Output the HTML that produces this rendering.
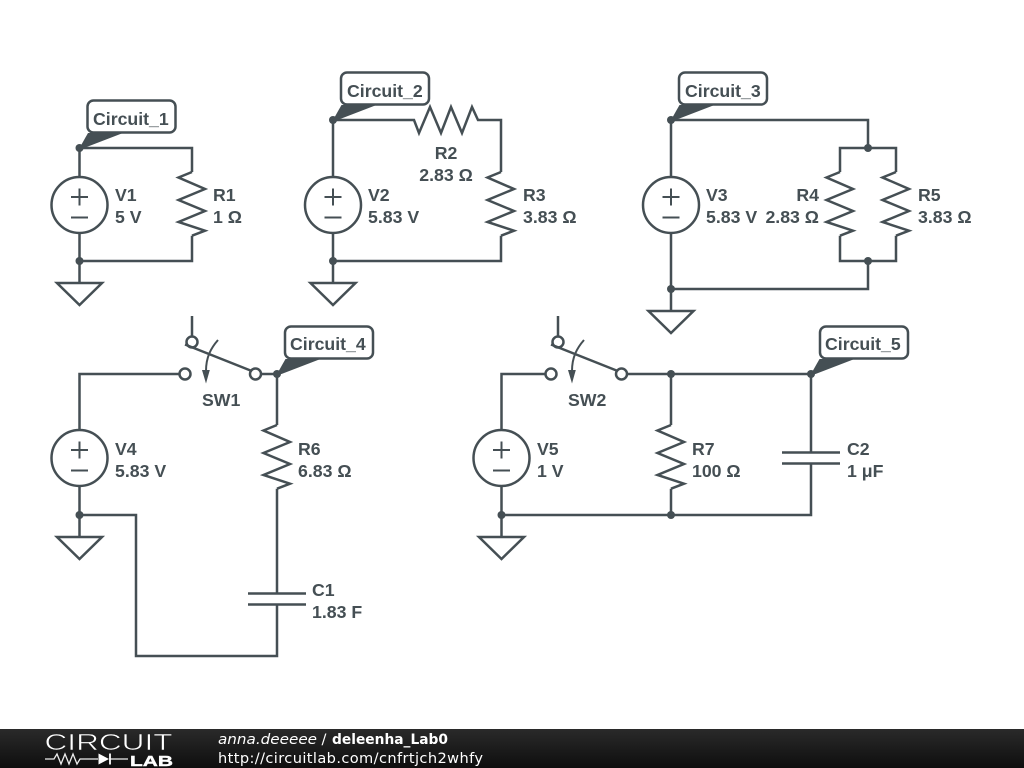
<!DOCTYPE html>
<html><head><meta charset="utf-8"><style>
html,body{margin:0;padding:0;background:#fff;width:1024px;height:768px;overflow:hidden}
svg{display:block}
.w{fill:none;stroke:#454f54;stroke-width:2.5;stroke-linejoin:miter}
.l{font:bold 17.7px "Liberation Sans",sans-serif;fill:#454f54}
.f{font:14.6px "DejaVu Sans",sans-serif;fill:#fff}
</style></head><body>
<svg width="1024" height="768" viewBox="0 0 1024 768" xmlns="http://www.w3.org/2000/svg">
<defs>
<linearGradient id="g" x1="0" y1="0" x2="0" y2="1"><stop offset="0" stop-color="#2a2a2a"/><stop offset="1" stop-color="#0e0e0e"/></linearGradient>
<g id="src"><circle class="w" r="28"/><path class="w" style="stroke-width:2" d="M-8.500-8H8.500M0-16.500V0.500M-8.500 12.500H8.500"/></g>
<g id="gnd"><path class="w" d="M-22.500 0H22.500L0 22Z"/></g>
<g id="res"><polyline class="w" points="0,-33 -13.500,-27.500 13,-16 -13.500,-5 13,6 -13.500,17 13,25.700 0,30.700"/></g>
<g id="sw"><path class="w" d="M7 -58V-38"/><circle class="w" cx="0" cy="0" r="5.500"/><circle class="w" cx="7" cy="-32" r="5.500"/><circle class="w" cx="70.500" cy="0" r="5.500"/>
<path class="w" d="M0-29.500 65.500-3.500"/><path class="w" d="M33-34C26-26 21-17 21-3" style="stroke-width:2"/><path d="M21 9.500 17-4H24.800Z" fill="#454f54"/></g>
<g id="cap"><path class="w" d="M-29-5.500H29M-29 5.500H29"/></g>
<path id="ptr" d="M0 0 8.500-15H43.500L4.500 0Z" fill="#454f54"/>
</defs>
<rect width="1024" height="768" fill="#fff"/>

<!-- Circuit 1 -->
<path class="w" d="M79.500 177V148H192V172M192 235.700V261H79.500V233M79.500 261V283"/>
<use href="#src" x="79.500" y="205"/><use href="#res" x="192" y="205"/><use href="#gnd" x="79.500" y="283"/>
<circle cx="79.500" cy="148" r="4" fill="#454f54"/><circle cx="79.500" cy="261" r="4" fill="#454f54"/>
<rect class="w" x="87.500" y="100.500" width="88" height="32" rx="6" style="fill:#fff"/>
<use href="#ptr" x="79.500" y="148"/>
<text class="l" x="93" y="125">Circuit_1</text>
<text class="l" x="115" y="201">V1</text><text class="l" x="115" y="223">5 V</text>
<text class="l" x="213" y="201">R1</text><text class="l" x="213" y="223">1 Ω</text>

<!-- Circuit 2 -->
<path class="w" d="M333 177V120H414L419 133 430 107 441 133 451 107 462 133 472 107 478 120H501V172M501 235.700V261H333V233M333 261V283"/>
<use href="#src" x="333" y="205"/><use href="#res" x="501" y="205"/><use href="#gnd" x="333" y="283"/>
<circle cx="333" cy="120" r="4" fill="#454f54"/><circle cx="333" cy="261" r="4" fill="#454f54"/>
<rect class="w" x="341" y="72.500" width="88" height="32" rx="6" style="fill:#fff"/>
<use href="#ptr" x="333" y="120"/>
<text class="l" x="347" y="97">Circuit_2</text>
<text class="l" x="368" y="201">V2</text><text class="l" x="368" y="223">5.83 V</text>
<text class="l" x="446" y="159" text-anchor="middle">R2</text><text class="l" x="446" y="181" text-anchor="middle">2.83 Ω</text>
<text class="l" x="523" y="201">R3</text><text class="l" x="523" y="223">3.83 Ω</text>

<!-- Circuit 3 -->
<path class="w" d="M671 177V120H868V148M840 172V148H896V172M840 235.700V261H896V235.700M868 261V289H671M671 233V311"/>
<use href="#src" x="671" y="205"/><use href="#res" x="840" y="205"/><use href="#res" x="896" y="205"/><use href="#gnd" x="671" y="311"/>
<circle cx="671" cy="120" r="4" fill="#454f54"/><circle cx="868" cy="148" r="4" fill="#454f54"/><circle cx="868" cy="261" r="4" fill="#454f54"/><circle cx="671" cy="289" r="4" fill="#454f54"/>
<rect class="w" x="679" y="72.500" width="88" height="32" rx="6" style="fill:#fff"/>
<use href="#ptr" x="671" y="120"/>
<text class="l" x="685" y="97">Circuit_3</text>
<text class="l" x="706" y="201">V3</text><text class="l" x="706" y="223">5.83 V</text>
<text class="l" x="819" y="201" text-anchor="end">R4</text><text class="l" x="819" y="223" text-anchor="end">2.83 Ω</text>
<text class="l" x="918" y="201">R5</text><text class="l" x="918" y="223">3.83 Ω</text>

<!-- Circuit 4 -->
<path class="w" d="M79.500 430V374H179.500M261 374H277V425M277 488.700V593.500M277 604.500V656H136V515H79.500M79.500 486V537"/>
<use href="#src" x="79.500" y="458"/><use href="#res" x="277" y="458"/><use href="#gnd" x="79.500" y="537"/><use href="#cap" x="277" y="599"/>
<use href="#sw" x="185" y="374"/>
<circle cx="277" cy="374" r="4" fill="#454f54"/><circle cx="79.500" cy="515" r="4" fill="#454f54"/>
<rect class="w" x="285" y="326.500" width="88" height="32" rx="6" style="fill:#fff"/>
<use href="#ptr" x="277" y="374"/>
<text class="l" x="290" y="350">Circuit_4</text>
<text class="l" x="202" y="406">SW1</text>
<text class="l" x="115" y="455">V4</text><text class="l" x="115" y="477">5.83 V</text>
<text class="l" x="298" y="455">R6</text><text class="l" x="298" y="477">6.83 Ω</text>
<text class="l" x="312" y="596">C1</text><text class="l" x="312" y="618">1.83 F</text>

<!-- Circuit 5 -->
<path class="w" d="M501.500 430V374H545.500M627 374H811V452.500M811 463.500V515H501.500M501.500 486V537M671 374V425M671 488.700V515"/>
<use href="#src" x="501.500" y="458"/><use href="#res" x="671" y="458"/><use href="#gnd" x="501.500" y="537"/><use href="#cap" x="811" y="458"/>
<use href="#sw" x="551" y="374"/>
<circle cx="671" cy="374" r="4" fill="#454f54"/><circle cx="811" cy="374" r="4" fill="#454f54"/><circle cx="501.500" cy="515" r="4" fill="#454f54"/><circle cx="671" cy="515" r="4" fill="#454f54"/>
<rect class="w" x="820" y="326.500" width="88" height="32" rx="6" style="fill:#fff"/>
<use href="#ptr" x="811" y="374"/>
<text class="l" x="825" y="350">Circuit_5</text>
<text class="l" x="568" y="406">SW2</text>
<text class="l" x="537" y="455">V5</text><text class="l" x="537" y="477">1 V</text>
<text class="l" x="692" y="455">R7</text><text class="l" x="692" y="477">100 Ω</text>
<text class="l" x="847" y="455">C2</text><text class="l" x="847" y="477">1 μF</text>

<!-- Footer -->
<rect x="0" y="729" width="1024" height="39" fill="url(#g)"/>
<text x="44.500" y="750" textLength="128" lengthAdjust="spacingAndGlyphs" style="font:23.500px 'Liberation Sans',sans-serif;fill:#fff;stroke:#222;stroke-width:0.6">CIRCUIT</text>
<path d="M45 759H54L57 754 61 764 65 754 69 764 73 754 77 764 80 759H98M110 759H128" fill="none" stroke="#eee" stroke-width="1.300"/>
<path d="M98.500 753.500V764.500L109 759Z" fill="#fff"/><path d="M110 753.500V764.500" stroke="#fff" stroke-width="1.800"/>
<text x="130" y="766" textLength="43" lengthAdjust="spacingAndGlyphs" style="font:bold 14.500px 'Liberation Sans',sans-serif;fill:#fff;stroke:#fff;stroke-width:0.4">LAB</text>
<text class="f" x="218" y="744" style="font-style:italic" textLength="99" lengthAdjust="spacingAndGlyphs">anna.deeeee</text>
<text class="f" x="321.500" y="744">/</text>
<text class="f" x="332" y="744" style="font-weight:bold" textLength="116" lengthAdjust="spacingAndGlyphs">deleenha_Lab0</text>
<text class="f" x="218" y="763" textLength="265" lengthAdjust="spacing">http://circuitlab.com/cnfrtjch2whfy</text>
</svg>
</body></html>
